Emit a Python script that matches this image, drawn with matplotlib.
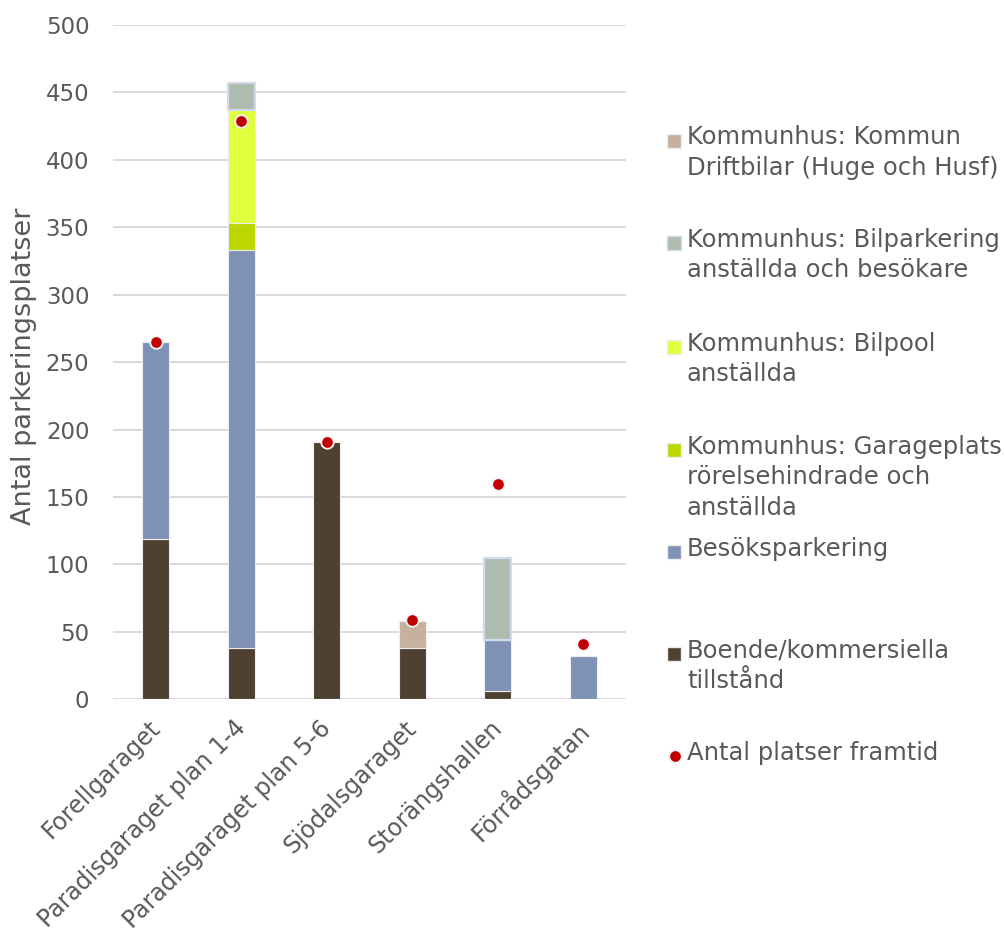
import matplotlib
matplotlib.use("Agg")
import matplotlib.pyplot as plt
import numpy as np
from matplotlib.patches import Rectangle
from matplotlib.lines import Line2D
from matplotlib.transforms import ScaledTranslation

plt.rcParams['font.family'] = ['DejaVu Sans']

# --- data -------------------------------------------------------------
categories = ["Forellgaraget", "Paradisgaraget plan 1-4", "Paradisgaraget plan 5-6",
              "Sjödalsgaraget", "Storängshallen", "Förrådsgatan"]
boende = [119, 38, 191, 38, 6, 0]          # Boende/kommersiella tillstånd
besok = [146, 295, 0, 0, 38, 32]           # Besöksparkering
garageplats = [0, 20, 0, 0, 0, 0]          # Kommunhus: Garageplats
bilpool = [0, 84, 0, 0, 0, 0]              # Kommunhus: Bilpool
bilparkering = [0, 20, 0, 0, 61, 0]        # Kommunhus: Bilparkering
driftbilar = [0, 0, 0, 20, 0, 0]           # Kommunhus: Driftbilar
framtid = [265, 429, 191, 59, 160, 41]     # Antal platser framtid
yticks = [0, 50, 100, 150, 200, 250, 300, 350, 400, 450, 500]

# --- styling ----------------------------------------------------------
TXT = '#595959'
series = [
    (boende, '#4F4131', '#EDEDED', 0.8),
    (besok, '#7F92B5', '#EDEDED', 0.8),
    (garageplats, '#BCD700', '#EDEDED', 0.8),
    (bilpool, '#E1FF3C', '#EDEDED', 0.8),
    (bilparkering, '#ADBCAE', '#D3DBEA', 1.6),
    (driftbilar, '#C6B19F', '#EDEDED', 0.8),
]

fig = plt.figure(figsize=(10.05, 9.34), dpi=100)
ax = fig.add_axes([113 / 1005, 1 - 699.3 / 934, 513 / 1005, (699.3 - 25) / 934])

x = np.arange(len(categories))
bottom = np.zeros(len(categories))
for vals, fc, ec, lw in series:
    v = np.array(vals, dtype=float)
    mask = v > 0
    ax.bar(x[mask], v[mask], width=0.315, bottom=bottom[mask], color=fc,
           edgecolor=ec, linewidth=lw, zorder=3)
    bottom += v

ax.plot(x, framtid, linestyle='none', marker='o', markersize=9,
        markerfacecolor='#C00000', markeredgecolor='#F2F2F2',
        markeredgewidth=1.3, zorder=5)

ax.set_xlim(-0.5, len(categories) - 0.5)
ax.set_ylim(0, 500)
ax.set_yticks(yticks)
ax.yaxis.grid(True, color='#D9D9D9', linewidth=1.4, zorder=0)
ax.set_axisbelow(True)
for s in ax.spines.values():
    s.set_visible(False)
ax.tick_params(axis='y', length=0, pad=17, labelsize=16.5, labelcolor=TXT)
ax.tick_params(axis='x', length=0, pad=12, labelsize=17, labelcolor=TXT)

ax.set_xticks(x)
ax.set_xticklabels(categories, rotation=45, ha='right', va='top',
                   rotation_mode='anchor')
for lbl in ax.get_xticklabels():
    lbl.set_transform(lbl.get_transform() + ScaledTranslation(-0.08, 0, fig.dpi_scale_trans))

ax.set_ylabel('Antal parkeringsplatser', fontsize=19.5, color=TXT)
ax.yaxis.set_label_coords(-0.148, 0.494)

# --- legend -----------------------------------------------------------
legend_items = [
    ('Kommunhus: Kommun\nDriftbilar (Huge och Husf)', '#C6B19F', '#EDEDED', 'sq'),
    ('Kommunhus: Bilparkering\nanställda och besökare', '#ADBCAE', '#D3DBEA', 'sq'),
    ('Kommunhus: Bilpool\nanställda', '#E1FF3C', '#EDEDED', 'sq'),
    ('Kommunhus: Garageplats\nrörelsehindrade och\nanställda', '#BCD700', '#EDEDED', 'sq'),
    ('Besöksparkering', '#7F92B5', '#EDEDED', 'sq'),
    ('Boende/kommersiella\ntillstånd', '#4F4131', '#EDEDED', 'sq'),
    ('Antal platser framtid', '#C00000', '#F2F2F2', 'dot'),
]
rows_px = [140.5, 243, 347, 450, 552, 654, 756]
W, H = 1005.0, 934.0
for (label, fc, ec, kind), yc in zip(legend_items, rows_px):
    if kind == 'sq':
        fig.patches.append(Rectangle((667 / W, 1 - (yc + 7) / H), 14 / W, 14 / H,
                                     transform=fig.transFigure, facecolor=fc,
                                     edgecolor=ec, linewidth=1.0))
    else:
        fig.lines.append(Line2D([674.5 / W], [1 - yc / H], transform=fig.transFigure,
                                marker='o', markersize=9, markerfacecolor=fc,
                                markeredgecolor=ec, markeredgewidth=1.3))
    fig.text(687 / W, 1 - (yc - 15) / H, label, ha='left', va='top',
             fontsize=17.5, color=TXT, linespacing=1.335)

fig.savefig('out.png', dpi=100, facecolor='white')
